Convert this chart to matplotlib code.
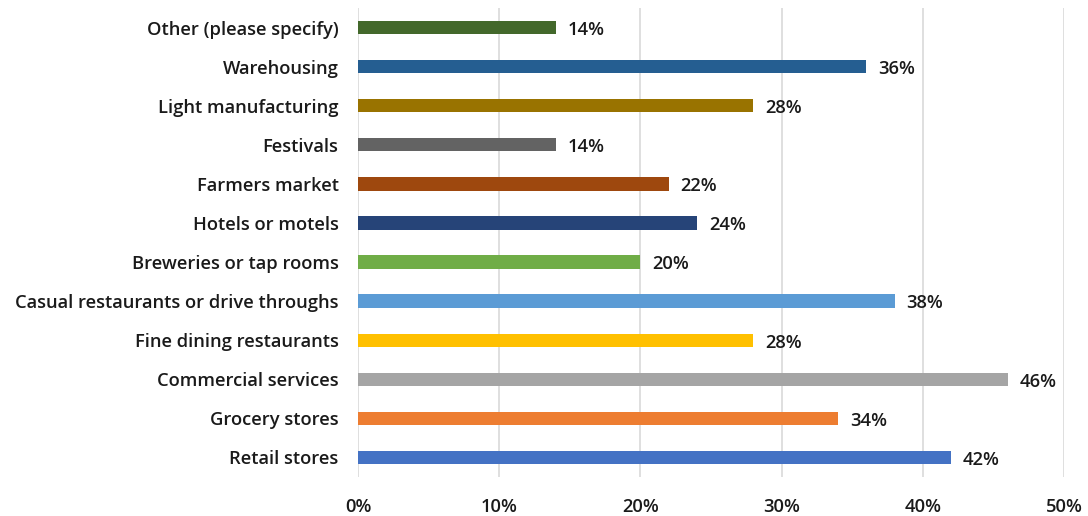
import matplotlib
matplotlib.use("Agg")
import matplotlib.pyplot as plt
from matplotlib.ticker import PercentFormatter

plt.rcParams['font.family'] = ['Open Sans', 'DejaVu Sans']

categories = ["Retail stores", "Grocery stores", "Commercial services",
              "Fine dining restaurants", "Casual restaurants or drive throughs",
              "Breweries or tap rooms", "Hotels or motels", "Farmers market",
              "Festivals", "Light manufacturing", "Warehousing",
              "Other (please specify)"]
values = [42, 34, 46, 28, 38, 20, 24, 22, 14, 28, 36, 14]
colors = ["#4472C4", "#ED7D31", "#A5A5A5", "#FFC000", "#5B9BD5", "#70AD47",
          "#264478", "#9E480E", "#636363", "#997300", "#255E91", "#43682B"]
xticks = [0, 10, 20, 30, 40, 50]

fs = 13.2
fig = plt.figure(figsize=(10.88, 5.16), dpi=100)
ax = fig.add_axes([358/1088, 39/516, (1064-358)/1088, (508-39)/516])

ypos = range(len(categories))
ax.barh(ypos, values, height=0.34, color=colors, zorder=3)

for y, v in zip(ypos, values):
    ax.text(v + 0.85, y - 0.06, f"{v}%", va="center", ha="left",
            fontsize=fs, fontweight="semibold", color="#1a1a1a")

ax.set_yticks(list(ypos))
ax.set_yticklabels(categories, fontsize=fs, fontweight="semibold", color="#1a1a1a")
ax.set_xticks(xticks)
ax.xaxis.set_major_formatter(PercentFormatter(decimals=0))
ax.tick_params(axis="x", labelsize=fs, colors="#1a1a1a", length=0, pad=15)
ax.tick_params(axis="y", length=0, pad=14)
for lbl in ax.get_xticklabels():
    lbl.set_fontweight("semibold")
ax.set_xlim(0, 50)
ax.set_ylim(-0.5, 11.5)
ax.grid(axis="x", color="#D9D9D9", linewidth=1.2, zorder=0)
for s in ax.spines.values():
    s.set_visible(False)

fig.savefig("out.png", dpi=100)
